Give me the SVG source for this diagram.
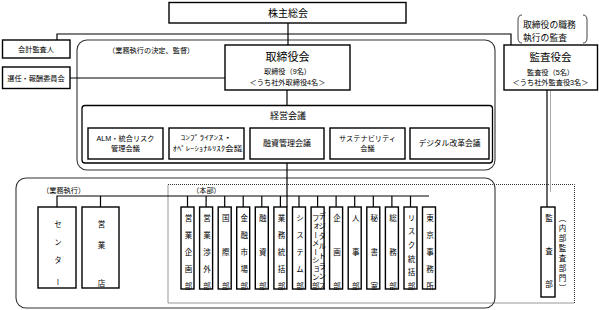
<svg xmlns="http://www.w3.org/2000/svg" width="599" height="310" viewBox="0 0 599 310">
<style>
text{font-family:"Liberation Sans","Noto Sans CJK JP",sans-serif;fill:#000}
.box{fill:#fff;stroke:#000;stroke-width:1.4}
.frame{fill:none;stroke:#333;stroke-width:1.1}
.dot{fill:none;stroke:#333;stroke-width:1;stroke-dasharray:1 1}
.ln{fill:none;stroke:#000;stroke-width:1.2}
.c{text-anchor:middle}
.v{writing-mode:vertical-rl;font-size:7.5px}
.s7{font-size:7.2px}
</style>
<rect width="599" height="310" fill="#fff"/>
<g id="frames">
<rect class="frame" x="77" y="40" width="418" height="130" rx="10"/>
<rect class="frame" x="16" y="178" width="479" height="130" rx="10"/>
<rect class="dot" x="168" y="184.5" width="406.5" height="118.5"/>
</g>
<g id="connectors">
<path class="ln" d="M288 23V45M57 40V34H511V45M70 78H225M287 90V105M287 163V207M57 207V196H429M100.5 196V207"/>
<path class="ln" d="M187.5 196V207M206.1 196V207M224.7 196V207M243.2 196V207M261.8 196V207M280.4 196V207M299 196V207M317.6 196V207M336.1 196V207M354.7 196V207M373.3 196V207M391.9 196V207M410.5 196V207"/>
<path class="ln" d="M547 90V207"/>
<path d="M550.5 90V192" stroke="#aaa" stroke-width="1" fill="none"/>
</g>
<g id="n-shareholders">
<rect class="box" x="169" y="2.5" width="237" height="20.5"/>
<text class="c" x="288" y="16.5" font-size="10">株主総会</text>
</g>
<g id="n-auditor">
<rect class="box" x="2.5" y="40" width="67.5" height="18"/>
<text class="c s7" x="36" y="51.8">会計監査人</text>
</g>
<g id="n-nomination">
<rect class="box" x="2.5" y="67" width="67.5" height="21.5"/>
<text class="c s7" x="36" y="80.5">選任・報酬委員会</text>
</g>
<text class="s7" x="108" y="52.5">（業務執行の決定、監督）</text>
<g id="n-board">
<rect class="box" x="225" y="45" width="125" height="45"/>
<text class="c" x="287.5" y="60.5" font-size="11">取締役会</text>
<text class="c s7" x="287.5" y="74">取締役（9名）</text>
<text class="c s7" x="287.5" y="84.5">＜うち社外取締役4名＞</text>
</g>
<g id="n-kansa-note">
<path d="M522 15Q518 15 518 20V38Q518 43 522 43M583 15Q587 15 587 20V38Q587 43 583 43" fill="none" stroke="#444" stroke-width="1"/>
<text x="523" y="28" font-size="8.8">取締役の職務</text>
<text x="523" y="40.5" font-size="8.8">執行の監査</text>
</g>
<g id="n-kansayakukai">
<rect class="box" x="504" y="45" width="93.5" height="45"/>
<text class="c" x="550.5" y="60.5" font-size="10.5">監査役会</text>
<text class="c s7" x="550.5" y="74.5">監査役（5名）</text>
<text class="c s7" x="550.5" y="84.5">＜うち社外監査役3名＞</text>
</g>
<g id="n-keiei">
<rect x="82" y="105.5" width="410.5" height="57.5" rx="3" fill="#fff" stroke="#000" stroke-width="1.3"/>
<text class="c" x="288" y="118.5" font-size="9">経営会議</text>
</g>
<g id="n-alm">
<rect class="box" x="88" y="128" width="75" height="31"/>
<text class="c s7" x="125.5" y="140.5">ALM・統合リスク</text>
<text class="c s7" x="125.5" y="151">管理会議</text>
</g>
<g id="n-compliance">
<rect class="box" x="169" y="128" width="75" height="31"/>
<text class="c" x="206.5" y="140" font-size="6.5" textLength="52" lengthAdjust="spacingAndGlyphs">ｺﾝﾌﾟﾗｲｱﾝｽ・</text>
<text class="c" x="207.5" y="151" font-size="6.5" textLength="70" lengthAdjust="spacingAndGlyphs">ｵﾍﾟﾚｰｼｮﾅﾙﾘｽｸ会議</text>
</g>
<g id="n-yushi">
<rect class="box" x="250" y="128" width="74" height="31"/>
<text class="c" x="287" y="146" font-size="8">融資管理会議</text>
</g>
<g id="n-sustain">
<rect class="box" x="330" y="128" width="75" height="31"/>
<text class="c s7" x="367.5" y="140.5">サステナビリティ</text>
<text class="c s7" x="367.5" y="151">会議</text>
</g>
<g id="n-digital-kaigi">
<rect class="box" x="410" y="128" width="79" height="31"/>
<text class="c" x="449.5" y="146" font-size="7.8">デジタル改革会議</text>
</g>
<text class="s7" x="42" y="193">（業務執行）</text>
<text class="s7" x="192" y="192.5">（本部）</text>
<g id="n-center">
<rect class="box" x="38" y="207" width="38" height="81"/>
<text class="v" x="57" y="220.25 238.25 256.25 278.25">センター</text>
</g>
<g id="n-branch">
<rect class="box" x="82" y="207" width="37" height="81"/>
<text class="v" x="100.5" y="220.25 241.25 279.25">営業店</text>
</g>
<g id="n-d1"><rect class="box" x="181" y="207" width="13" height="82"/><text class="v" x="187.5" y="214.25 231.25 248.25 265.25 282.25">営業企画部</text></g>
<g id="n-d2"><rect class="box" x="199.6" y="207" width="13" height="82"/><text class="v" x="206.1" y="214.25 231.25 248.25 265.25 282.25">営業渉外部</text></g>
<g id="n-d3"><rect class="box" x="218.2" y="207" width="13" height="82"/><text class="v" x="224.7" y="214.25 248.25 282.25">国際部</text></g>
<g id="n-d4"><rect class="box" x="236.7" y="207" width="13" height="82"/><text class="v" x="243.2" y="214.25 231.25 248.25 265.25 282.25">金融市場部</text></g>
<g id="n-d5"><rect class="box" x="255.3" y="207" width="13" height="82"/><text class="v" x="261.8" y="214.25 248.25 282.25">融資部</text></g>
<g id="n-d6"><rect class="box" x="273.9" y="207" width="13" height="82"/><text class="v" x="280.4" y="214.25 231.25 248.25 265.25 282.25">業務統括部</text></g>
<g id="n-d7"><rect class="box" x="292.5" y="207" width="13" height="82"/><text class="v" x="299" y="214.25 231.25 248.25 265.25 282.25">システム部</text></g>
<g id="n-d8"><rect class="box" x="311.1" y="207" width="13" height="82"/><text class="v" x="321.2" font-size="6" y="212 222 232 242 252 262 272 282">デジタルトランス</text><text class="v" x="314.8" font-size="6" y="214 222.5 231 239.5 248 256.5 265 273.5 282">フォーメーション部</text></g>
<g id="n-d9"><rect class="box" x="329.6" y="207" width="13" height="82"/><text class="v" x="336.1" y="214.25 248.25 282.25">企画部</text></g>
<g id="n-d10"><rect class="box" x="348.2" y="207" width="13" height="82"/><text class="v" x="354.7" y="214.25 248.25 282.25">人事部</text></g>
<g id="n-d11"><rect class="box" x="366.8" y="207" width="13" height="82"/><text class="v" x="373.3" y="214.25 248.25 282.25">秘書室</text></g>
<g id="n-d12"><rect class="box" x="385.4" y="207" width="13" height="82"/><text class="v" x="391.9" y="214.25 248.25 282.25">総務部</text></g>
<g id="n-d13"><rect class="box" x="404" y="207" width="13" height="82"/><text class="v" x="410.5" y="214.25 227.85 241.45 255.05 268.65 282.25">リスク統括部</text></g>
<g id="n-d14"><rect class="box" x="422.5" y="207" width="13" height="82"/><text class="v" x="429" y="214.25 231.25 248.25 265.25 282.25">東京事務所</text></g>
<g id="n-kansabu">
<rect class="box" x="541" y="207" width="14" height="90"/>
<text class="v" x="548" y="214.25 247.25 280.25">監査部</text>
<text class="v" x="561.5" font-size="7" y="214 224 234 244 254 264 274 284">（内部監査部門）</text>
</g>
</svg>
